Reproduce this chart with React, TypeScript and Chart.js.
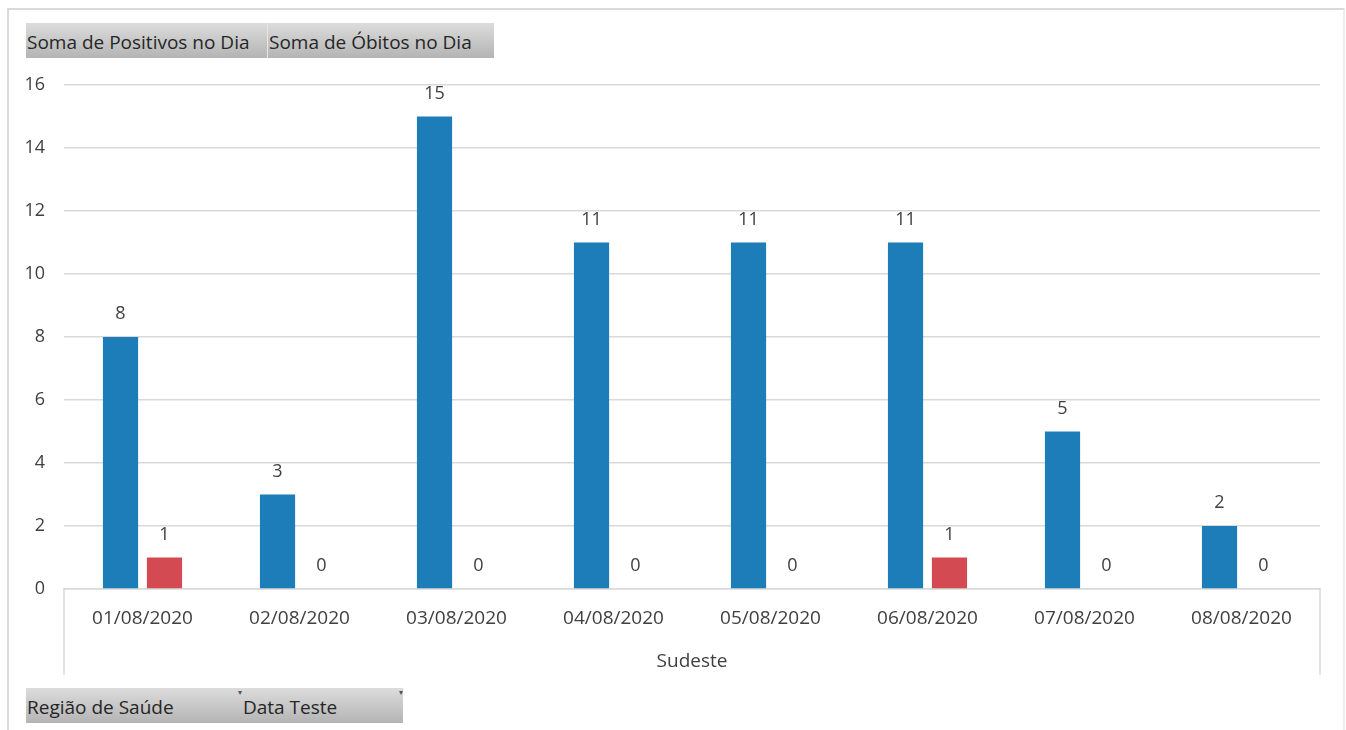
import React, { useEffect, useRef } from "react";
import { Chart, registerables } from "chart.js";

Chart.register(...registerables);

const categories = ["01/08/2020", "02/08/2020", "03/08/2020", "04/08/2020", "05/08/2020", "06/08/2020", "07/08/2020", "08/08/2020"];
const positivos = [8, 3, 15, 11, 11, 11, 5, 2];
const obitos = [1, 0, 0, 0, 0, 1, 0, 0];
const seriesNames = ["Soma de Positivos no Dia", "Soma de Óbitos no Dia"];
const groupLabel = "Sudeste";
const filterNames = ["Região de Saúde", "Data Teste"];

const FONT = "'Open Sans', 'Noto Sans', sans-serif";
const TEXT = "#404040";
const GRID = "#d9d9d9";

const labelPlugin = {
  id: "valueLabels",
  afterDatasetsDraw(chart: any) {
    const ctx = chart.ctx;
    ctx.save();
    ctx.font = `18px ${FONT}`;
    ctx.fillStyle = TEXT;
    ctx.textAlign = "center";
    ctx.textBaseline = "middle";
    chart.data.datasets.forEach((ds: any, i: number) => {
      const meta = chart.getDatasetMeta(i);
      meta.data.forEach((el: any, j: number) => {
        ctx.fillText(String(ds.data[j]), el.x, el.y - 23);
      });
    });
    ctx.restore();
  },
};

const boxPlugin = {
  id: "categoryBox",
  afterDraw(chart: any) {
    const { ctx, chartArea } = chart;
    const bottom = chartArea.bottom + 86;
    ctx.save();
    ctx.strokeStyle = GRID;
    ctx.lineWidth = 1.5;
    ctx.beginPath();
    ctx.moveTo(chartArea.left, chartArea.bottom);
    ctx.lineTo(chartArea.left, bottom);
    ctx.moveTo(chartArea.right, chartArea.bottom);
    ctx.lineTo(chartArea.right, bottom);
    ctx.stroke();
    ctx.font = `19px ${FONT}`;
    ctx.fillStyle = TEXT;
    ctx.textAlign = "center";
    ctx.textBaseline = "middle";
    ctx.fillText(groupLabel, (chartArea.left + chartArea.right) / 2, chartArea.bottom + 73);
    ctx.restore();
  },
};

const btnStyle: React.CSSProperties = {
  position: "absolute",
  height: 35,
  boxSizing: "border-box",
  background: "linear-gradient(#dcdcdc, #b4b4b4)",
  color: "#262626",
  font: `19px ${FONT}`,
  lineHeight: "38px",
  paddingLeft: 1,
  whiteSpace: "nowrap",
  overflow: "hidden",
};

export default function App() {
  const ref = useRef<HTMLCanvasElement>(null);
  useEffect(() => {
    if (!ref.current) return;
    const chart = new Chart(ref.current, {
      type: "bar",
      data: {
        labels: categories,
        datasets: [
          { label: seriesNames[0], data: positivos, backgroundColor: "#1c7db8", categoryPercentage: 0.56, barPercentage: 0.8 },
          { label: seriesNames[1], data: obitos, backgroundColor: "#d34a52", categoryPercentage: 0.56, barPercentage: 0.8 },
        ],
      },
      options: {
        animation: false,
        responsive: false,
        maintainAspectRatio: false,
        layout: { padding: { left: 0, right: 26, top: 85, bottom: 55 } },
        plugins: { legend: { display: false }, tooltip: { enabled: false }, title: { display: false } },
        scales: {
          x: {
            grid: { display: false, drawTicks: false },
            border: { display: true, color: GRID, width: 1.5 },
            ticks: { color: TEXT, font: { family: FONT, size: 19 }, padding: 18, maxRotation: 0 },
            afterFit: (s: any) => { s.height = 86; },
          },
          y: {
            min: 0,
            max: 16,
            grid: { color: GRID, lineWidth: 1.5, drawTicks: false },
            border: { display: false },
            ticks: { stepSize: 2, color: TEXT, font: { family: FONT, size: 18 }, padding: 19 },
            afterFit: (s: any) => { s.width = 64; },
          },
        },
      },
      plugins: [labelPlugin, boxPlugin],
    });
    return () => chart.destroy();
  }, []);

  const tri: React.CSSProperties = { position: "absolute", top: 0, fontSize: 8, color: "#555", lineHeight: "8px" };

  return (
    <div style={{ position: "absolute", left: 0, top: 0, width: 1346, height: 730, overflow: "hidden", background: "#fff" }}>
      <div style={{ position: "absolute", left: 7, top: 8, width: 1338, height: 760, border: `2px solid ${GRID}`, boxSizing: "border-box", borderRightColor: "#eeeeee" }} />
      <canvas ref={ref} width={1346} height={730} style={{ position: "absolute", left: 0, top: 0, width: 1346, height: 730 }} />
      <div style={{ ...btnStyle, left: 26, top: 23, width: 242, borderRight: "1px solid #e6e6e6" }}>{seriesNames[0]}</div>
      <div style={{ ...btnStyle, left: 268, top: 23, width: 226 }}>{seriesNames[1]}</div>
      <div style={{ ...btnStyle, left: 26, top: 688, width: 216 }}>
        {filterNames[0]}
        <span style={{ ...tri, right: 0 }}>▾</span>
      </div>
      <div style={{ ...btnStyle, left: 242, top: 688, width: 161 }}>
        {filterNames[1]}
        <span style={{ ...tri, right: 0 }}>▾</span>
      </div>
    </div>
  );
}
